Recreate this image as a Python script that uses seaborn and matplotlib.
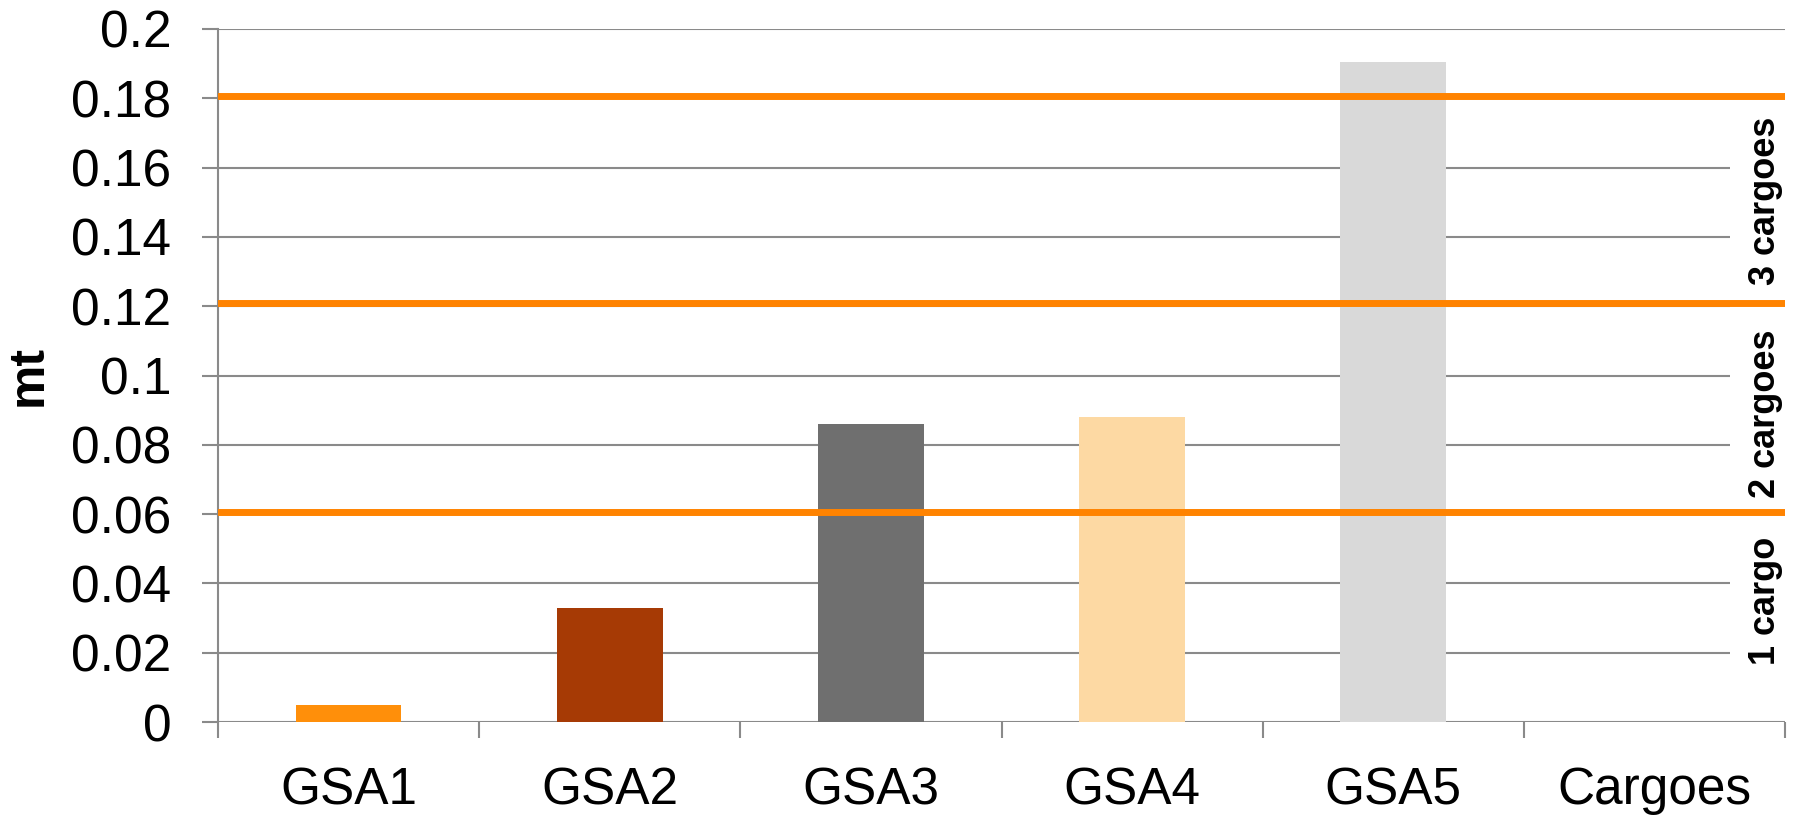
import matplotlib
matplotlib.use("Agg")
import matplotlib.pyplot as plt
import matplotlib.patches as mpatches
import matplotlib.transforms as mtransforms
import seaborn as sns
import pandas as pd
import numpy as np

categories = ["GSA1", "GSA2", "GSA3", "GSA4", "GSA5", "Cargoes"]
bar_names = ["GSA1", "GSA2", "GSA3", "GSA4", "GSA5"]
bar_values = [0.005, 0.033, 0.086, 0.088, 0.1905]
bar_colors = ["#FF8F0A", "#A63A05", "#6F6F6F", "#FDD9A3", "#D9D9D9"]
threshold_values = [0.0605, 0.1208, 0.1808]
threshold_labels = ["1 cargo", "2 cargoes", "3 cargoes"]
threshold_label_pos = [0.035, 0.089, 0.1505]
y_ticks = [0, 0.02, 0.04, 0.06, 0.08, 0.1, 0.12, 0.14, 0.16, 0.18, 0.2]
y_tick_labels = ["0", "0.02", "0.04", "0.06", "0.08", "0.1", "0.12", "0.14", "0.16", "0.18", "0.2"]

sns.set_theme(style="white")
plt.rcParams["font.family"] = ["Liberation Sans", "DejaVu Sans"]
plt.rcParams["text.color"] = "black"
plt.rcParams["axes.labelcolor"] = "black"
plt.rcParams["xtick.color"] = "black"
plt.rcParams["ytick.color"] = "black"

grid_col = "#8A8A8A"

fig = plt.figure(figsize=(18.01, 8.16), dpi=100)
ax = fig.add_axes([218 / 1801, 1 - 722 / 816, (1785 - 218) / 1801, (722 - 29) / 816])

df = pd.DataFrame({"cat": bar_names, "val": bar_values})
sns.barplot(data=df, x="cat", y="val", hue="cat", order=categories,
            palette=dict(zip(bar_names, bar_colors)), width=0.405,
            legend=False, ax=ax, saturation=1, edgecolor="none", zorder=2)

ax.set_xlim(-0.5, len(categories) - 0.5)
ax.set_ylim(0, 0.2)

trans = mtransforms.blended_transform_factory(ax.transAxes, ax.transData)

# gridlines
for yv in y_ticks:
    ax.axhline(yv, color=grid_col, lw=1.5, zorder=0.5)

# white box behind labels interrupting gridlines
x0 = (1730 - 218) / (1785 - 218)
rect = mpatches.Rectangle((x0, 0.0015), 1 - x0, threshold_values[-1] - 0.0015,
                          transform=trans, facecolor="white", edgecolor="none", zorder=1)
ax.add_patch(rect)

for tv in threshold_values:
    ax.axhline(tv, color="#FF8300", lw=5, zorder=3)

lx = (1765 - 218) / (1785 - 218)
for lab, yp in zip(threshold_labels, threshold_label_pos):
    ax.text(lx, yp, lab, rotation=90, ha="center", va="center", fontsize=26,
            fontweight="bold", color="black", transform=trans, zorder=4)

# axes styling
for s in ["top", "right", "bottom"]:
    ax.spines[s].set_visible(False)
ax.spines["left"].set_color(grid_col)
ax.spines["left"].set_linewidth(1.5)
ax.spines["left"].set_bounds(0, 0.2)

ax.set_yticks(y_ticks)
ax.set_yticklabels(y_tick_labels)
ax.tick_params(axis="y", which="major", length=11.5, width=1.5, color=grid_col,
               labelcolor="black", pad=22, labelsize=37, left=True, direction="out")

ax.set_xticks(range(len(categories)))
ax.set_xticklabels(categories)
ax.set_xticks(np.arange(-0.5, len(categories)), minor=True)
ax.tick_params(axis="x", which="major", length=0, pad=32, labelsize=37, labelcolor="black")
ax.tick_params(axis="x", which="minor", length=11.5, width=1.5, color=grid_col,
               bottom=True, direction="out")

ax.set_xlabel("")
ax.set_ylabel("mt", fontsize=36, fontweight="bold", labelpad=0, color="black")
ax.yaxis.set_label_coords(-(218 - 52) / 1567, 0.5)

fig.savefig("out.png", dpi=100, facecolor="white")
